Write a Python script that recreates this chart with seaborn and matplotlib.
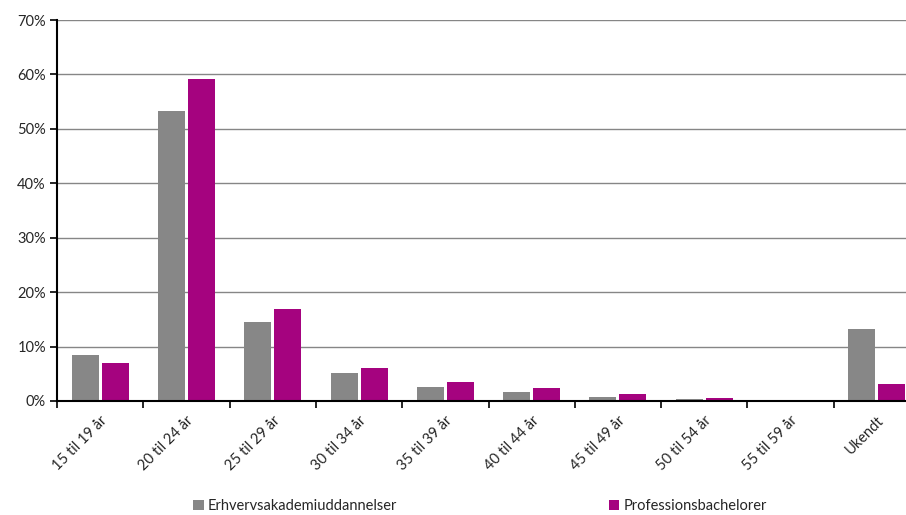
import matplotlib
matplotlib.use("Agg")
import matplotlib.pyplot as plt
import seaborn as sns
import pandas as pd
import numpy as np
from matplotlib.patches import Patch
from matplotlib.ticker import FixedLocator, PercentFormatter

categories = ["15 til 19 år", "20 til 24 år", "25 til 29 år", "30 til 34 år", "35 til 39 år",
              "40 til 44 år", "45 til 49 år", "50 til 54 år", "55 til 59 år", "Ukendt"]
erhverv = [8.5, 53.3, 14.5, 5.2, 2.6, 1.6, 0.7, 0.3, 0.05, 13.2]
profbach = [6.9, 59.2, 16.9, 6.1, 3.5, 2.3, 1.2, 0.5, 0.05, 3.1]
series_names = ["Erhvervsakademiuddannelser", "Professionsbachelorer"]
colors = ["#878787", "#A5037F"]
yticks = [0, 10, 20, 30, 40, 50, 60, 70]

df = pd.DataFrame({
    "cat": categories * 2,
    "val": erhverv + profbach,
    "serie": [series_names[0]] * len(categories) + [series_names[1]] * len(categories),
})

sns.set_theme(style="white")
plt.rcParams["font.family"] = ["Lato", "DejaVu Sans"]

fig = plt.figure(figsize=(9.06, 5.15), dpi=100)
ax = fig.add_axes([57 / 906, 1 - 401 / 515, 863 / 906, 381 / 515])

sns.barplot(data=df, x="cat", y="val", hue="serie", palette=colors, ax=ax,
            width=0.695, gap=0.1, legend=False, saturation=1, edgecolor="none")

ax.set_ylim(0, 70)
ax.set_xlim(-0.5, len(categories) - 0.5)
ax.set_yticks(yticks)
ax.yaxis.set_major_formatter(PercentFormatter(decimals=0))
ax.yaxis.grid(True, color="#868686", linewidth=1.0)
ax.set_axisbelow(True)
ax.set_xlabel("")
ax.set_ylabel("")

for s in ["top", "right"]:
    ax.spines[s].set_visible(False)
for s in ["left", "bottom"]:
    ax.spines[s].set_color("black")
    ax.spines[s].set_linewidth(1.5)

ax.tick_params(axis="y", which="major", direction="out", length=5, width=1.2, color="black",
               labelsize=10.5, pad=3, left=True)
ax.tick_params(axis="x", which="major", length=0, labelsize=10.5, pad=9)
ax.xaxis.set_minor_locator(FixedLocator(np.arange(-0.5, len(categories) + 0.5, 1)))
ax.tick_params(axis="x", which="minor", direction="out", length=5, width=1.2, color="black", bottom=True)
ax.set_xticks(range(len(categories)))
ax.set_xticklabels(categories, rotation=45, ha="right", va="top", rotation_mode="anchor")

handles = [Patch(facecolor=c, edgecolor="none") for c in colors]
fig.legend(handles, series_names, loc="center", bbox_to_anchor=(0.530, 0.017), ncol=2,
           frameon=False, fontsize=10.5, handlelength=0.7, handleheight=0.7, handletextpad=0.3,
           columnspacing=14.5)

fig.savefig("out.png", dpi=100)
